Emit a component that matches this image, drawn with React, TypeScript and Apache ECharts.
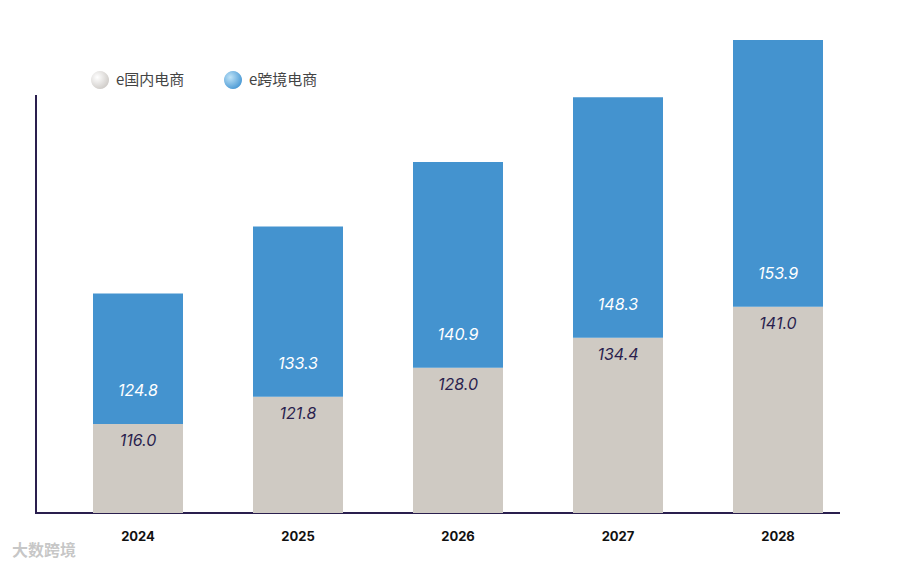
import React, { useEffect, useRef } from "react";
import * as echarts from "echarts";

const years = ["2024", "2025", "2026", "2027", "2028"];
const domestic = [116.0, 121.8, 128.0, 134.4, 141.0];
const crossBorder = [124.8, 133.3, 140.9, 148.3, 153.9];
// bars in the picture start from a cut baseline, not zero
const baseCut = 97;

const navy = "#2a1f4e";

export default function App() {
  const ref = useRef<HTMLDivElement>(null);

  useEffect(() => {
    if (!ref.current) return;
    const chart = echarts.init(ref.current, null, { renderer: "svg" });
    const maxTotal = Math.max(...domestic.map((d, i) => d - baseCut + crossBorder[i] - baseCut));
    const legendDot = (c0: string, c1: string) =>
      new echarts.graphic.RadialGradient(0.35, 0.35, 0.8, [
        { offset: 0, color: c0 },
        { offset: 1, color: c1 },
      ]);
    chart.setOption({
      animation: false,
      textStyle: { fontFamily: "Inter, 'Noto Sans CJK SC', sans-serif" },
      grid: { left: 58, right: 42, top: 40, bottom: 56 },
      xAxis: {
        type: "category",
        data: years,
        axisLine: { show: false },
        axisTick: { show: false },
        axisLabel: { color: "#111", fontWeight: "bold", fontSize: 13, margin: 16 },
      },
      yAxis: { type: "value", min: 0, max: maxTotal, show: false },
      series: [
        {
          name: "e国内电商",
          type: "bar",
          stack: "t",
          barWidth: 90,
          itemStyle: { color: "#cfcac3" },
          data: domestic.map((v) => ({ value: v - baseCut, raw: v })),
          label: {
            show: true,
            position: "insideTop",
            distance: 8,
            color: navy,
            fontSize: 16,
            fontStyle: "italic",
            formatter: (p: any) => domestic[p.dataIndex].toFixed(1),
          },
        },
        {
          name: "e跨境电商",
          type: "bar",
          stack: "t",
          barWidth: 90,
          itemStyle: { color: "#4493cf" },
          data: crossBorder.map((v) => v - baseCut),
          label: {
            show: true,
            position: "insideBottom",
            distance: 26,
            color: "#fff",
            fontSize: 16,
            fontStyle: "italic",
            formatter: (p: any) => crossBorder[p.dataIndex].toFixed(1),
          },
        },
      ],
      graphic: [
        { type: "line", shape: { x1: 36, y1: 95, x2: 36, y2: 513 }, style: { stroke: navy, lineWidth: 2 } },
        { type: "line", shape: { x1: 35, y1: 513, x2: 840, y2: 513 }, style: { stroke: navy, lineWidth: 2 } },
        { type: "circle", shape: { cx: 100, cy: 80, r: 9 }, style: { fill: legendDot("#ffffff", "#c8c4c0") } },
        { type: "text", x: 116, y: 71, style: { text: "e国内电商", fontSize: 15, fill: "#444", fontFamily: "'Noto Sans CJK SC', sans-serif" } },
        { type: "circle", shape: { cx: 233, cy: 80, r: 9 }, style: { fill: legendDot("#bfe3f7", "#3a8fd0") } },
        { type: "text", x: 249, y: 71, style: { text: "e跨境电商", fontSize: 15, fill: "#444", fontFamily: "'Noto Sans CJK SC', sans-serif" } },
        { type: "text", x: 12, y: 541, style: { text: "大数跨境", fontSize: 16, fontWeight: "bold", fill: "rgba(150,150,150,0.55)", fontFamily: "'Noto Sans CJK SC', sans-serif" } },
      ],
    });
    return () => chart.dispose();
  }, []);

  return <div ref={ref} style={{ width: 900, height: 569, position: "absolute", left: 0, top: 0, background: "#fff" }} />;
}
